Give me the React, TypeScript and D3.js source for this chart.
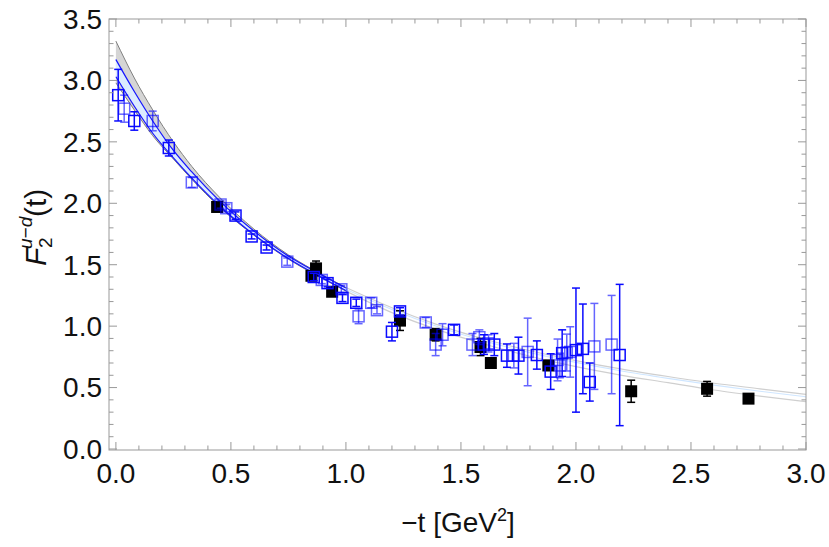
import React from "react";
import * as d3 from "d3";

const W = 829;
const H = 547;
const FRAME = { left: 109, right: 806, top: 19, bottom: 450 };

// black filled squares
const blackX = [0.44, 0.85, 0.87, 0.94, 1.235, 1.39, 1.585, 1.63, 1.88, 2.24, 2.57, 2.75];
const blackY = [1.97, 1.41, 1.47, 1.28, 1.045, 0.93, 0.83, 0.70, 0.68, 0.47, 0.49, 0.41];
const blackErr = [0.03, 0.03, 0.06, 0.03, 0.08, 0.05, 0.07, 0.04, 0.04, 0.09, 0.06, 0.02];

// blue open squares (solid)
const darkX = [0.01, 0.08, 0.23, 0.52, 0.59, 0.655, 0.86, 0.92, 0.985, 1.045, 1.2, 1.235, 1.47, 1.6, 1.645, 1.7, 1.75, 1.83, 1.89, 1.94, 2.0, 2.03, 2.06, 2.19];
const darkY = [2.88, 2.67, 2.45, 1.9, 1.73, 1.64, 1.4, 1.35, 1.23, 1.19, 0.955, 1.12, 0.97, 0.85, 0.85, 0.76, 0.76, 0.765, 0.63, 0.78, 0.805, 0.815, 0.545, 0.765];
const darkErr = [0.21, 0.075, 0.065, 0.03, 0.02, 0.02, 0.03, 0.03, 0.03, 0.03, 0.075, 0.03, 0.04, 0.08, 0.09, 0.095, 0.15, 0.115, 0.145, 0.19, 0.505, 0.365, 0.155, 0.575];

// blue open squares (faded)
const lightX = [0.036, 0.16, 0.33, 0.455, 0.48, 0.745, 0.895, 0.98, 1.055, 1.11, 1.135, 1.347, 1.39, 1.42, 1.55, 1.58, 1.62, 1.73, 1.79, 1.92, 1.93, 1.96, 1.975, 2.08, 2.155];
const lightY = [2.77, 2.67, 2.17, 1.99, 1.96, 1.525, 1.376, 1.3, 1.08, 1.19, 1.13, 1.03, 0.85, 0.93, 0.85, 0.91, 0.86, 0.76, 0.79, 0.725, 0.68, 0.785, 0.79, 0.835, 0.85];
const lightErr = [0.11, 0.08, 0.04, 0.03, 0.03, 0.03, 0.03, 0.03, 0.06, 0.04, 0.03, 0.04, 0.09, 0.09, 0.09, 0.06, 0.07, 0.1, 0.275, 0.17, 0.1, 0.15, 0.205, 0.35, 0.4];

// fit bands, data region
const bandX = [0, 0.08, 0.16, 0.25, 0.33, 0.45, 0.6, 0.75, 0.9, 1.0];
const grayUpper = [3.32, 3.02, 2.76, 2.5, 2.3, 2.05, 1.79, 1.58, 1.415, 1.315];
const blueUpper = [3.17, 2.91, 2.67, 2.43, 2.255, 2.02, 1.775, 1.57, 1.41, 1.31];
const blueLower = [3.03, 2.79, 2.57, 2.37, 2.205, 1.98, 1.745, 1.55, 1.39, 1.29];
const grayLower = [2.98, 2.76, 2.55, 2.36, 2.195, 1.97, 1.74, 1.545, 1.385, 1.285];

// extrapolated region
const extX = [1.0, 1.2, 1.4, 1.6, 1.8, 2.0, 2.2, 2.4, 2.6, 2.8, 3.0];
const extUpper = [1.315, 1.15, 1.01, 0.895, 0.8, 0.72, 0.65, 0.59, 0.535, 0.49, 0.445];
const extMid = [1.3, 1.135, 0.995, 0.88, 0.785, 0.705, 0.635, 0.575, 0.52, 0.47, 0.425];
const extLower = [1.285, 1.11, 0.97, 0.855, 0.755, 0.67, 0.6, 0.54, 0.48, 0.43, 0.385];

const xMajor = [0, 0.5, 1.0, 1.5, 2.0, 2.5, 3.0];
const yMajor = [0, 0.5, 1.0, 1.5, 2.0, 2.5, 3.0, 3.5];

const FONT = "'Liberation Sans', Arial, sans-serif";

export default function App() {
  const x = d3.scaleLinear().domain([-0.03, 3.0]).range([FRAME.left, FRAME.right]);
  const y = d3.scaleLinear().domain([0, 3.5]).range([449, FRAME.top]);

  const line = (xs: number[], ys: number[]) =>
    d3.line<number>().x((_, i) => x(xs[i])).y((d) => y(d)).curve(d3.curveMonotoneX)(ys) || "";
  const area = (xs: number[], lo: number[], hi: number[]) =>
    d3
      .area<number>()
      .x((_, i) => x(xs[i]))
      .y0((_, i) => y(lo[i]))
      .y1((d) => y(d))
      .curve(d3.curveMonotoneX)(hi) || "";

  const xMinor = d3.range(0, 31).map((d) => d / 10);
  const yMinor = d3.range(0, 36).map((d) => d / 10);
  const isMajor = (v: number) => Math.abs(v * 2 - Math.round(v * 2)) < 1e-6;

  const errBar = (cx: number, cy: number, e: number, color: string, key: string, op = 1) => {
    const px = x(cx);
    const y1 = y(cy + e);
    const y2 = y(cy - e);
    return (
      <g key={key} stroke={color} strokeWidth={1.5} opacity={op}>
        <line x1={px} x2={px} y1={y1} y2={y2} />
        <line x1={px - 4} x2={px + 4} y1={y1} y2={y1} />
        <line x1={px - 4} x2={px + 4} y1={y2} y2={y2} />
      </g>
    );
  };

  const S = 11;

  return (
    <svg width={W} height={H} style={{ position: "absolute", left: 0, top: 0 }}>
      <rect width={W} height={H} fill="#fff" />
      {/* bands */}
      <path d={area(bandX, grayLower, grayUpper)} fill="#d5d5d5" />
      <path d={line(bandX, grayUpper)} fill="none" stroke="#808080" strokeWidth={1} />
      <path d={line(bandX, grayLower)} fill="none" stroke="#808080" strokeWidth={1} />
      <path d={area(bandX, blueLower, blueUpper)} fill="#dcecff" />
      <path d={line(bandX, blueUpper)} fill="none" stroke="#1414ff" strokeWidth={1.2} />
      <path d={line(bandX, blueLower)} fill="none" stroke="#1414ff" strokeWidth={1.2} />
      <path d={line(extX, extUpper)} fill="none" stroke="#cfcfcf" strokeWidth={1.2} />
      <path d={line(extX, extLower)} fill="none" stroke="#cfcfcf" strokeWidth={1.2} />
      <path d={line(extX, extMid)} fill="none" stroke="#cfe6ff" strokeWidth={1.2} />

      {/* black points */}
      {blackX.map((cx, i) => errBar(cx, blackY[i], blackErr[i], "#000", `be${i}`))}
      {blackX.map((cx, i) => (
        <rect key={`b${i}`} x={x(cx) - 6} y={y(blackY[i]) - 6} width={12} height={12} fill="#000" />
      ))}

      {/* blue points */}
      {lightX.map((cx, i) => errBar(cx, lightY[i], lightErr[i], "#0000ff", `le${i}`, 0.6))}
      {lightX.map((cx, i) => (
        <rect key={`l${i}`} x={x(cx) - S / 2} y={y(lightY[i]) - S / 2} width={S} height={S}
          fill="none" stroke="#0000ff" strokeWidth={1.5} opacity={0.6} />
      ))}
      {darkX.map((cx, i) => errBar(cx, darkY[i], darkErr[i], "#0a0aff", `de${i}`))}
      {darkX.map((cx, i) => (
        <rect key={`d${i}`} x={x(cx) - S / 2} y={y(darkY[i]) - S / 2} width={S} height={S}
          fill="none" stroke="#0a0aff" strokeWidth={1.5} />
      ))}

      {/* frame */}
      <rect x={FRAME.left} y={FRAME.top} width={FRAME.right - FRAME.left} height={FRAME.bottom - FRAME.top}
        fill="none" stroke="#999" strokeWidth={1} />
      <g stroke="#999" strokeWidth={1}>
        {xMinor.map((v) => {
          const len = isMajor(v) ? 8 : 4.5;
          return (
            <g key={`xt${v}`}>
              <line x1={x(v)} x2={x(v)} y1={FRAME.bottom} y2={FRAME.bottom - len} />
              <line x1={x(v)} x2={x(v)} y1={FRAME.top} y2={FRAME.top + len} />
            </g>
          );
        })}
        {yMinor.map((v) => {
          const len = isMajor(v) ? 8 : 4.5;
          return (
            <g key={`yt${v}`}>
              <line x1={FRAME.left} x2={FRAME.left + len} y1={y(v)} y2={y(v)} />
              <line x1={FRAME.right} x2={FRAME.right - len} y1={y(v)} y2={y(v)} />
            </g>
          );
        })}
      </g>

      {/* tick labels */}
      <g fontFamily={FONT} fontSize={28} fill="#111">
        {xMajor.map((v) => (
          <text key={`xl${v}`} x={x(v)} y={483} textAnchor="middle">{v.toFixed(1)}</text>
        ))}
        {yMajor.map((v) => (
          <text key={`yl${v}`} x={102} y={y(v)} dy="0.35em" textAnchor="end">{v.toFixed(1)}</text>
        ))}
      </g>

      {/* axis labels */}
      <text x={458} y={532} textAnchor="middle" fontFamily={FONT} fontSize={28} fill="#111">
        −t [GeV<tspan dy={-11} fontSize={18}>2</tspan><tspan dy={11}>]</tspan>
      </text>
      <g transform="translate(46,266) rotate(-90)" fontFamily={FONT} fill="#111">
        <text x={0} y={0} fontSize={30} fontStyle="italic">F</text>
        <text x={18} y={6} fontSize={19}>2</text>
        <text x={17} y={-14} fontSize={19} fontStyle="italic">u−d</text>
        <text x={49} y={0} fontSize={30}>(t)</text>
      </g>
    </svg>
  );
}
